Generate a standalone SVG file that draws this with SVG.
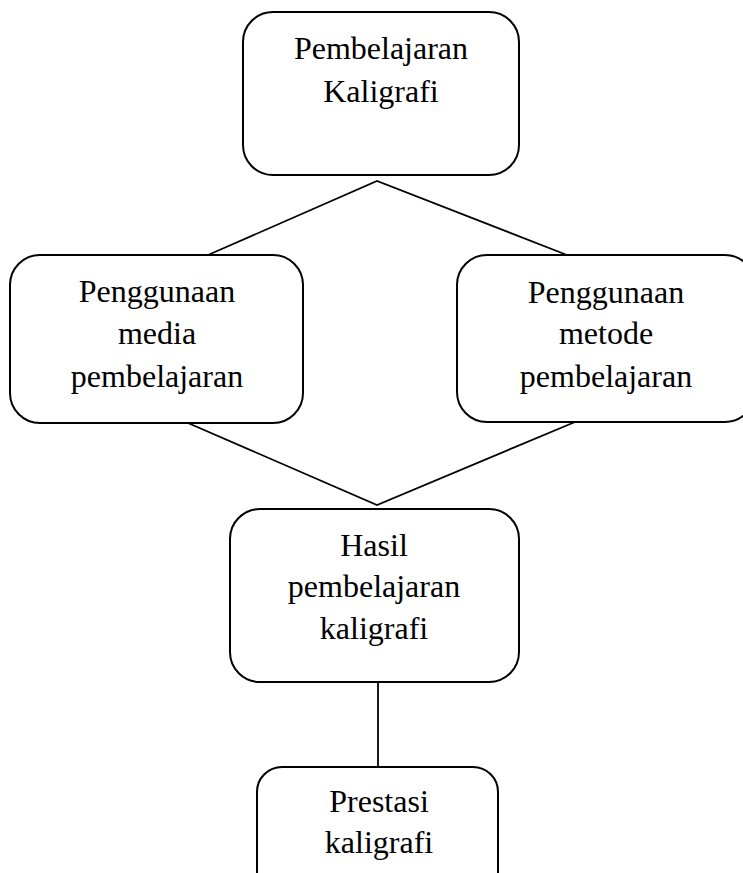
<svg xmlns="http://www.w3.org/2000/svg" width="743" height="873" viewBox="0 0 743 873">
<style>
.box{fill:#fff;stroke:#000;stroke-width:2}
.ln{stroke:#000;stroke-width:1.8;fill:none}
text{font-family:"Liberation Serif","Times New Roman",serif;font-size:32px;fill:#000;text-anchor:middle}
</style>
<rect width="743" height="873" fill="#fff"/>
<g id="connectors">
<polyline class="ln" points="208,255 377,181 567,255"/>
<polyline class="ln" points="188,423 377,505 575,422"/>
<line class="ln" x1="378" y1="682" x2="378" y2="768"/>
</g>
<g id="n1">
<rect class="box" x="243" y="12" width="276" height="163" rx="30"/>
<text x="381" y="59">Pembelajaran</text>
<text x="381" y="102">Kaligrafi</text>
</g>
<g id="n2">
<rect class="box" x="10" y="255" width="293" height="168" rx="30"/>
<text x="157" y="302">Penggunaan</text>
<text x="157" y="344">media</text>
<text x="157" y="387">pembelajaran</text>
</g>
<g id="n3">
<rect class="box" x="457" y="255" width="298" height="167" rx="30"/>
<text x="606" y="303">Penggunaan</text>
<text x="606" y="344">metode</text>
<text x="606" y="387">pembelajaran</text>
</g>
<g id="n4">
<rect class="box" x="230" y="509" width="289" height="173" rx="30"/>
<text x="374" y="556">Hasil</text>
<text x="374" y="597">pembelajaran</text>
<text x="374" y="639">kaligrafi</text>
</g>
<g id="n5">
<rect class="box" x="257" y="767" width="241" height="130" rx="25"/>
<text x="379" y="812">Prestasi</text>
<text x="379" y="853">kaligrafi</text>
</g>
</svg>
